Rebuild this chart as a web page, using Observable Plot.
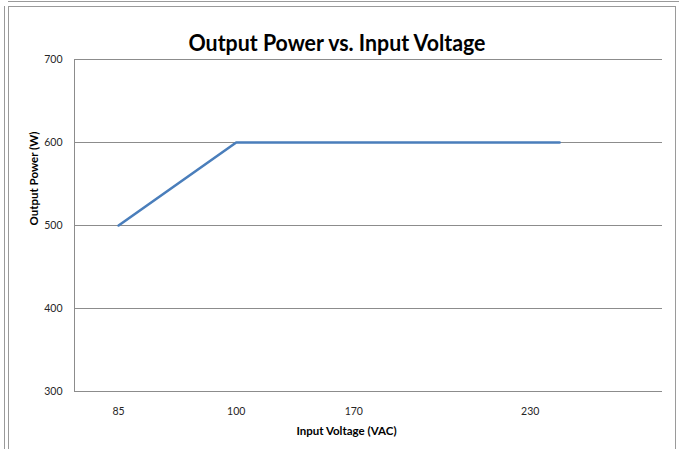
<!DOCTYPE html>
<html><head><meta charset="utf-8">
<script src="https://cdn.jsdelivr.net/npm/d3@7"></script>
<script src="https://cdn.jsdelivr.net/npm/@observablehq/plot@0.6"></script>
<style>
body{margin:0;background:#fff;}
#wrap{position:relative;width:679px;height:449px;overflow:hidden;background:#fff;}
.topline{position:absolute;left:8px;top:1px;width:671px;height:0;border-top:1px solid #9a9a9a;}
.leftline{position:absolute;left:4px;top:6px;width:0;height:443px;border-left:1px solid #9a9a9a;}
.box{position:absolute;left:8px;top:6px;width:668px;height:460px;border:1px solid #9a9a9a;box-sizing:border-box;}
#chart{position:absolute;left:0;top:0;}
</style>
</head><body>
<div id="wrap"><div class="topline"></div><div class="leftline"></div><div class="box"></div><div id="chart"></div></div>
<script>
// Category positions on the (categorical) voltage axis and their labels
const categoryCount = 20;
const tickIndex = [1, 5, 9, 15];
const tickLabels = ["85", "100", "170", "230"];
// Series: output power at category positions
const pointIndex = [1, 5, 16];
const powerW = [500, 600, 600];
const yTicks = [300, 400, 500, 600, 700];
const chartTitle = "Output Power vs. Input Voltage";
const xTitle = "Input Voltage (VAC)";
const yTitle = "Output Power (W)";

const data = pointIndex.map((x, i) => ({x, y: powerW[i]}));
const font = "Lato, 'Open Sans', sans-serif";

const chart = Plot.plot({
  width: 679, height: 449,
  marginLeft: 74, marginRight: 17, marginTop: 59, marginBottom: 58,
  style: {fontFamily: font, background: "transparent", color: "#262626"},
  x: {type: "linear", domain: [-0.5, categoryCount - 0.5]},
  y: {domain: [300, 700]},
  marks: [
    Plot.ruleY(yTicks, {stroke: "#8c8c8c", strokeWidth: 1}),
    Plot.ruleX([-0.5], {stroke: "#8c8c8c", strokeWidth: 1}),
    Plot.axisY(yTicks, {tickSize: 0, tickPadding: 12, fontSize: 10.5, label: null, fill: "#262626"}),
    Plot.axisX(tickIndex, {tickSize: 0, tickPadding: 16, fontSize: 10.5, label: null, fill: "#262626",
      tickFormat: d => tickLabels[tickIndex.indexOf(d)]}),
    Plot.line(data, {x: "x", y: "y", stroke: "#4a7ebb", strokeWidth: 2.6}),
    Plot.text([chartTitle], {frameAnchor: "top", dx: -31.5, dy: -9, lineAnchor: "bottom",
      fontSize: 22, fontWeight: "bold", fill: "#000", className: "ctitle"}),
    Plot.text([xTitle], {frameAnchor: "bottom", dx: -22, dy: 43, lineAnchor: "bottom",
      fontSize: 11.5, fontWeight: "bold", fill: "#000"}),
    Plot.text([yTitle], {frameAnchor: "left", dx: -40, dy: 0, rotate: -90, lineAnchor: "middle",
      fontSize: 11.5, fontWeight: "bold", fill: "#000"})
  ]
});
document.getElementById("chart").appendChild(chart);
d3.select(chart).selectAll("g.ctitle text").attr("textLength", 297).attr("lengthAdjust", "spacingAndGlyphs");
</script>
</body></html>
